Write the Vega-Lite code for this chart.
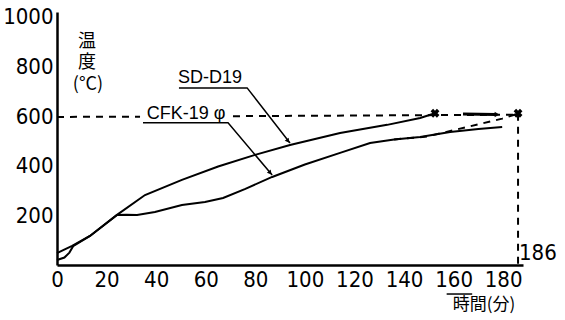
{
  "$schema": "https://vega.github.io/schema/vega-lite/v6.json",
  "width": 466,
  "height": 253,
  "autosize": {"type": "none"},
  "padding": {"left": 57, "top": 12, "right": 42, "bottom": 55},
  "background": "white",
  "config": {
    "view": {"stroke": null},
    "axis": {
      "grid": false,
      "title": null,
      "format": "d",
      "ticks": false,
      "domainColor": "black",
      "domainWidth": 2.5,
      "labelColor": "black",
      "labelFont": "DejaVu Sans Condensed",
      "labelFontSize": 22,
      "labelOverlap": false,
      "labelFlush": false
    }
  },
  "datasets": {
    "curves": [
      {"series": "SD-D19", "i": 1, "t": 0, "temp": 48},
      {"series": "SD-D19", "i": 2, "t": 2.5, "temp": 60},
      {"series": "SD-D19", "i": 3, "t": 6.1, "temp": 77},
      {"series": "SD-D19", "i": 4, "t": 13.3, "temp": 117},
      {"series": "SD-D19", "i": 5, "t": 24.2, "temp": 202},
      {"series": "SD-D19", "i": 6, "t": 35.5, "temp": 282},
      {"series": "SD-D19", "i": 7, "t": 50.4, "temp": 343},
      {"series": "SD-D19", "i": 8, "t": 65, "temp": 397},
      {"series": "SD-D19", "i": 9, "t": 79.9, "temp": 444},
      {"series": "SD-D19", "i": 10, "t": 94, "temp": 484},
      {"series": "SD-D19", "i": 11, "t": 114.2, "temp": 532},
      {"series": "SD-D19", "i": 12, "t": 133.2, "temp": 565},
      {"series": "SD-D19", "i": 13, "t": 146.5, "temp": 593},
      {"series": "SD-D19", "i": 14, "t": 152.5, "temp": 612},
      {"series": "CFK-19φ", "i": 1, "t": 0, "temp": 20},
      {"series": "CFK-19φ", "i": 2, "t": 3, "temp": 30},
      {"series": "CFK-19φ", "i": 3, "t": 5, "temp": 50},
      {"series": "CFK-19φ", "i": 4, "t": 6.5, "temp": 76},
      {"series": "CFK-19φ", "i": 5, "t": 13.3, "temp": 117},
      {"series": "CFK-19φ", "i": 6, "t": 24.2, "temp": 202},
      {"series": "CFK-19φ", "i": 7, "t": 28, "temp": 203},
      {"series": "CFK-19φ", "i": 8, "t": 32.3, "temp": 202},
      {"series": "CFK-19φ", "i": 9, "t": 39.5, "temp": 214},
      {"series": "CFK-19φ", "i": 10, "t": 50.4, "temp": 242},
      {"series": "CFK-19φ", "i": 11, "t": 59.7, "temp": 254},
      {"series": "CFK-19φ", "i": 12, "t": 67, "temp": 270},
      {"series": "CFK-19φ", "i": 13, "t": 76, "temp": 307},
      {"series": "CFK-19φ", "i": 14, "t": 86.8, "temp": 355},
      {"series": "CFK-19φ", "i": 15, "t": 100, "temp": 405},
      {"series": "CFK-19φ", "i": 16, "t": 114.2, "temp": 452},
      {"series": "CFK-19φ", "i": 17, "t": 126.3, "temp": 492},
      {"series": "CFK-19φ", "i": 18, "t": 136, "temp": 506},
      {"series": "CFK-19φ", "i": 19, "t": 146.5, "temp": 516},
      {"series": "CFK-19φ", "i": 20, "t": 158.6, "temp": 536},
      {"series": "CFK-19φ", "i": 21, "t": 170, "temp": 548},
      {"series": "CFK-19φ", "i": 22, "t": 179.6, "temp": 556}
    ],
    "dashed": [
      {"seg": "h600a", "i": 1, "t": 0, "temp": 597},
      {"seg": "h600a", "i": 2, "t": 33.5, "temp": 598},
      {"seg": "h600b", "i": 1, "t": 71, "temp": 600},
      {"seg": "h600b", "i": 2, "t": 186, "temp": 606},
      {"seg": "ext", "i": 1, "t": 136, "temp": 506},
      {"seg": "ext", "i": 2, "t": 149.3, "temp": 518},
      {"seg": "ext", "i": 3, "t": 179.6, "temp": 590},
      {"seg": "ext", "i": 4, "t": 186, "temp": 610},
      {"seg": "v186", "i": 1, "t": 186, "temp": 610},
      {"seg": "v186", "i": 2, "t": 186, "temp": 0}
    ],
    "leaders": [
      {"seg": "sd_ul", "i": 1, "t": 49.2, "temp": 714},
      {"seg": "sd_ul", "i": 2, "t": 76.7, "temp": 714},
      {"seg": "sd_ul", "i": 3, "t": 94, "temp": 492},
      {"seg": "cfk_ul", "i": 1, "t": 34.7, "temp": 573},
      {"seg": "cfk_ul", "i": 2, "t": 69, "temp": 573},
      {"seg": "cfk_ul", "i": 3, "t": 86.8, "temp": 363},
      {"seg": "title_ol", "i": 1, "t": 157.2, "temp": -117},
      {"seg": "title_ol", "i": 2, "t": 167.5, "temp": -117}
    ],
    "arrowseg": [
      {"seg": "a", "i": 1, "t": 163.8, "temp": 609},
      {"seg": "a", "i": 2, "t": 176.8, "temp": 607}
    ],
    "xmarks": [
      {"t": 152.5, "temp": 612},
      {"t": 186, "temp": 612}
    ],
    "xticks": [
      {"t": 20}, {"t": 40}, {"t": 60}, {"t": 80}, {"t": 100},
      {"t": 120}, {"t": 140}, {"t": 160}, {"t": 180}
    ],
    "yticks": [
      {"temp": 200}, {"temp": 400}, {"temp": 600}, {"temp": 800}, {"temp": 1000}
    ],
    "cjk": [
      {"text": "温", "t": 12.1, "temp": 899},
      {"text": "度", "t": 12.1, "temp": 815},
      {"text": "(°C)", "t": 12.5, "temp": 726}
    ],
    "names": [
      {"text": "SD-D19", "t": 61.7, "temp": 754},
      {"text": "CFK-19 φ", "t": 52.1, "temp": 609}
    ]
  },
  "encoding": {
    "x": {
      "field": "t",
      "type": "quantitative",
      "scale": {"domain": [0, 188], "nice": false, "zero": false},
      "axis": {"values": [0, 20, 40, 60, 80, 100, 120, 140, 160, 180], "labelPadding": 4}
    },
    "y": {
      "field": "temp",
      "type": "quantitative",
      "scale": {"domain": [0, 1020], "nice": false, "zero": false},
      "axis": {"values": [200, 400, 600, 800, 1000], "labelPadding": 4}
    }
  },
  "layer": [
    {
      "data": {"name": "xticks"},
      "mark": {"type": "rule", "color": "black", "strokeWidth": 2},
      "encoding": {"y": {"datum": 0, "type": "quantitative"}, "y2": {"datum": 28}}
    },
    {
      "data": {"name": "yticks"},
      "mark": {"type": "rule", "color": "black", "strokeWidth": 2},
      "encoding": {"x": {"datum": 0, "type": "quantitative"}, "x2": {"datum": 2.2}}
    },
    {
      "data": {"name": "curves"},
      "mark": {"type": "line", "color": "black", "strokeWidth": 2},
      "encoding": {"detail": {"field": "series"}, "order": {"field": "i"}}
    },
    {
      "data": {"name": "dashed"},
      "mark": {"type": "line", "color": "black", "strokeWidth": 2, "strokeDash": [7, 6]},
      "encoding": {"detail": {"field": "seg"}, "order": {"field": "i"}}
    },
    {
      "data": {"name": "leaders"},
      "mark": {"type": "line", "color": "black", "strokeWidth": 1.5},
      "encoding": {"detail": {"field": "seg"}, "order": {"field": "i"}}
    },
    {
      "data": {"name": "arrowseg"},
      "mark": {"type": "line", "color": "black", "strokeWidth": 3},
      "encoding": {"detail": {"field": "seg"}, "order": {"field": "i"}}
    },
    {
      "data": {"values": [{"t": 177.5, "temp": 607}]},
      "mark": {"type": "point", "shape": "triangle-right", "filled": true, "color": "black", "size": 30, "opacity": 1}
    },
    {
      "data": {"values": [{"t": 93.2, "temp": 500}]},
      "mark": {"type": "point", "shape": "triangle-down", "angle": -38, "filled": true, "color": "black", "size": 25, "opacity": 1}
    },
    {
      "data": {"values": [{"t": 86, "temp": 372}]},
      "mark": {"type": "point", "shape": "triangle-down", "angle": -40, "filled": true, "color": "black", "size": 25, "opacity": 1}
    },
    {
      "data": {"name": "xmarks"},
      "mark": {"type": "point", "shape": "cross", "angle": 45, "filled": true, "color": "black", "size": 80, "opacity": 1}
    },
    {
      "data": {"name": "cjk"},
      "mark": {"type": "text", "font": "Noto Sans CJK JP", "fontSize": 18, "color": "black", "align": "center", "baseline": "middle"},
      "encoding": {"text": {"field": "text"}}
    },
    {
      "data": {"name": "names"},
      "mark": {"type": "text", "font": "Liberation Sans", "fontSize": 18, "color": "black", "align": "center", "baseline": "middle"},
      "encoding": {"text": {"field": "text"}}
    },
    {
      "data": {"values": [{"text": "186", "t": 194, "temp": 48}]},
      "mark": {"type": "text", "font": "DejaVu Sans Condensed", "fontSize": 22, "color": "black", "align": "center", "baseline": "middle"},
      "encoding": {"text": {"field": "text"}}
    },
    {
      "data": {"values": [{"text": "時間(分)", "t": 172.3, "temp": -160}]},
      "mark": {"type": "text", "font": "Noto Sans CJK JP", "fontSize": 17, "color": "black", "align": "center", "baseline": "middle"},
      "encoding": {"text": {"field": "text"}}
    }
  ]
}
